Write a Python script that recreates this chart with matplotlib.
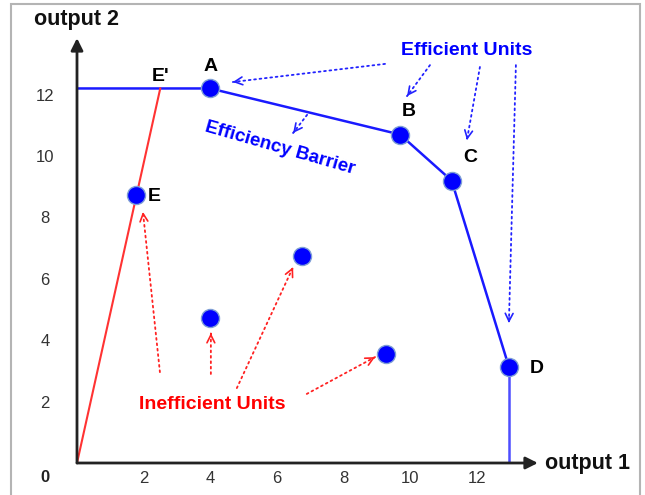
import matplotlib
matplotlib.use("Agg")
import matplotlib.pyplot as plt
from matplotlib.patches import Rectangle

plt.rcParams['font.family'] = ['Liberation Sans', 'DejaVu Sans']

# ---- data ----
x_ticks = [2, 4, 6, 8, 10, 12]
y_ticks = [2, 4, 6, 8, 10, 12]

efficient_names = ['A', 'B', 'C', 'D']
efficient_x = [4.0, 9.7, 11.25, 12.97]
efficient_y = [12.2, 10.7, 9.2, 3.13]

unit_e = (1.77, 8.73)
unit_e_proj = (2.5, 12.2)

inefficient_x = [4.0, 6.75, 9.28]
inefficient_y = [4.72, 6.74, 3.55]

axis_end = 13.84

# blue arrows (Efficient Units) : start -> tip
blue_arrows = [((9.25, 13.0), (4.68, 12.41)),
               ((10.6, 12.96), (9.91, 11.95)),
               ((12.1, 12.9), (11.71, 10.52)),
               ((13.18, 12.96), (12.97, 4.56)),
               ((6.91, 11.34), (6.49, 10.75))]
red_arrows = [((2.49, 2.96), (1.98, 8.18)),
              ((4.02, 2.9), (4.02, 4.23)),
              ((4.8, 2.44), (6.49, 6.38)),
              ((6.9, 2.25), (8.95, 3.45))]

W, H = 645, 495
fig = plt.figure(figsize=(W / 100, H / 100), dpi=100)
ax = fig.add_axes([77 / W, 32 / H, 563 / W, 458 / H])
ax.set_xlim(0, 563 / 33.3)
ax.set_ylim(0, 458 / 30.7)
for s in ax.spines.values():
    s.set_visible(False)

# border
fig.patches.append(Rectangle((11 / W, -0.02), (640 - 11) / W, 1.02 - 4 / H,
                             transform=fig.transFigure, fill=False,
                             edgecolor='#b4b4b4', linewidth=1.5))

# ticks
ax.set_xticks(x_ticks)
ax.set_xticklabels([str(t) for t in x_ticks])
ax.set_yticks(y_ticks)
ax.set_yticklabels([str(t) for t in y_ticks])
ax.tick_params(axis='both', length=0, labelsize=12, labelcolor='#333333')
ax.tick_params(axis='x', pad=6)
ax.tick_params(axis='y', pad=23)
for lab in ax.get_yticklabels():
    lab.set_horizontalalignment('center')
ax.text(-32 / 33.3, -15 / 30.7, '0', ha='center', va='center', fontsize=12,
        fontweight='bold', color='#222222', clip_on=False)

# axes arrows
ax.annotate('', xy=(axis_end, 0), xytext=(0, 0),
            arrowprops=dict(arrowstyle='-|>', color='#222222', lw=2,
                            mutation_scale=18, shrinkA=0, shrinkB=0))
ax.annotate('', xy=(0, axis_end), xytext=(0, 0),
            arrowprops=dict(arrowstyle='-|>', color='#222222', lw=2,
                            mutation_scale=18, shrinkA=0, shrinkB=0))
ax.text(axis_end + 0.2, 0, 'output 1', ha='left', va='center', fontsize=15.5,
        fontweight='bold', color='#111111')
ax.text(0.0, 14.43, 'output 2', ha='center', va='center', fontsize=15.5,
        fontweight='bold', color='#111111')

# frontier
fx = [0, efficient_x[0]] + efficient_x[1:] + [efficient_x[-1]]
fy = [efficient_y[0], efficient_y[0]] + efficient_y[1:] + [0]
ax.plot(fx[:-1], fy[:-1], color='#1a1aff', lw=1.8, zorder=2)
ax.plot(fx[-2:], fy[-2:], color='#4d4dff', lw=1.8, zorder=2)
ax.plot([0, unit_e_proj[0]], [0, unit_e_proj[1]], color='#ff3333', lw=1.5, zorder=2)

# points
mk = dict(marker='o', markersize=13, color='#0000ff', markeredgecolor='#7f9fd6',
          markeredgewidth=1.0, linestyle='none', zorder=4)
ax.plot(efficient_x, efficient_y, **mk)
ax.plot([unit_e[0]], [unit_e[1]], **mk)
ax.plot(inefficient_x, inefficient_y, **mk)

# labels
lab = dict(fontsize=14, fontweight='bold', color='black', ha='center', va='center')
ax.text(efficient_x[0], efficient_y[0] + 0.7, 'A', **lab)
ax.text(efficient_x[1] + 0.25, efficient_y[1] + 0.75, 'B', **lab)
ax.text(efficient_x[2] + 0.55, efficient_y[2] + 0.75, 'C', **lab)
ax.text(efficient_x[3] + 0.85, efficient_y[3] - 0.05, 'D', **lab)
ax.text(unit_e[0] + 0.55, unit_e[1] - 0.05, 'E', **lab)
ax.text(unit_e_proj[0], unit_e_proj[1] + 0.4, "E'", **lab)

ax.text(11.71, 13.45, 'Efficient Units', fontsize=14, fontweight='bold',
        color='#0000ff', ha='center', va='center')
ax.text(6.1, 10.26, 'Efficiency Barrier', fontsize=13.5, fontweight='bold',
        color='#0000ff', ha='center', va='center', rotation=-16)
ax.text(4.05, 1.92, 'Inefficient Units', fontsize=14, fontweight='bold',
        color='#ff0000', ha='center', va='center')


def dotted_arrow(start, tip, color):
    ax.annotate('', xy=tip, xytext=start,
                arrowprops=dict(arrowstyle='-', color=color, lw=1.3,
                                linestyle=(0, (1, 2)), shrinkA=0, shrinkB=0))
    dx = tip[0] - start[0]
    dy = tip[1] - start[1]
    ax.annotate('', xy=tip, xytext=(tip[0] - dx * 0.02, tip[1] - dy * 0.02),
                arrowprops=dict(arrowstyle='->', color=color, lw=1.2,
                                mutation_scale=14, shrinkA=0, shrinkB=0))


for s, t in blue_arrows:
    dotted_arrow(s, t, '#2222ff')
for s, t in red_arrows:
    dotted_arrow(s, t, '#ff2222')

fig.savefig('out.png', dpi=100)
